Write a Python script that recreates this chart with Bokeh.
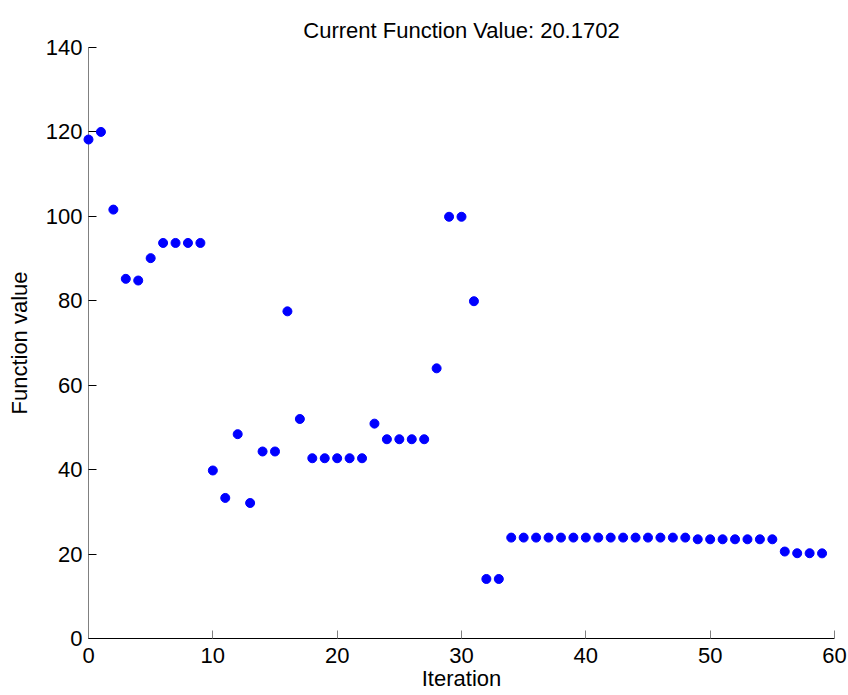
from bokeh.plotting import figure
from bokeh.models import ColumnDataSource, Range1d, FixedTicker
from bokeh.embed import file_html
from bokeh.resources import INLINE

iterations = list(range(60))
values = [
    118.2, 120.0, 101.6, 85.2, 84.8, 90.1, 93.7, 93.7, 93.7, 93.7,
    39.8, 33.3, 48.4, 32.1, 44.3, 44.3, 77.5, 52.0, 42.7, 42.7,
    42.7, 42.7, 42.7, 50.9, 47.2, 47.2, 47.2, 47.2, 64.0, 99.9,
    99.9, 79.9, 14.1, 14.1, 23.9, 23.9, 23.9, 23.9, 23.9, 23.9,
    23.9, 23.9, 23.9, 23.9, 23.9, 23.9, 23.9, 23.9, 23.9, 23.5,
    23.5, 23.5, 23.5, 23.5, 23.5, 23.5, 20.6, 20.2, 20.2, 20.1702,
]
x_ticks = [0, 10, 20, 30, 40, 50, 60]
y_ticks = [0, 20, 40, 60, 80, 100, 120, 140]
title_text = "Current Function Value: 20.1702"
x_label = "Iteration"
y_label = "Function value"

FONT = "Liberation Sans"

src = ColumnDataSource(data=dict(x=iterations, y=values))

p = figure(
    width=848, height=695,
    output_backend="svg", toolbar_location=None,
    x_range=Range1d(0, 60), y_range=Range1d(0, 140),
    min_border_left=88, min_border_right=14,
    min_border_top=47, min_border_bottom=57,
    title=title_text,
)
p.outline_line_color = None
p.background_fill_color = "white"
p.border_fill_color = "white"
p.xgrid.visible = False
p.ygrid.visible = False

p.title.text_font = FONT
p.title.text_font_size = "22px"
p.title.text_font_style = "normal"
p.title.text_color = "black"
p.title.align = "center"
p.title.offset = 0
p.title.standoff = 10

for ax in (p.xaxis[0], p.yaxis[0]):
    ax.major_label_text_font = FONT
    ax.major_label_text_font_size = "22px"
    ax.major_label_text_color = "black"
    ax.axis_label_text_font = FONT
    ax.axis_label_text_font_size = "22px"
    ax.axis_label_text_font_style = "normal"
    ax.axis_label_text_color = "black"
    ax.major_tick_in = 8
    ax.major_tick_out = 0
    ax.minor_tick_line_color = None

p.xaxis.ticker = FixedTicker(ticks=x_ticks)
p.yaxis.ticker = FixedTicker(ticks=y_ticks)
p.xaxis.axis_label = x_label
p.yaxis.axis_label = y_label

p.xaxis.axis_line_color = "black"
p.xaxis.major_tick_line_color = "#808080"
p.xaxis.major_label_standoff = 9
p.xaxis.axis_label_standoff = 0
p.yaxis.axis_line_color = "#808080"
p.yaxis.major_tick_line_color = "black"
p.yaxis.major_label_standoff = 6
p.yaxis.axis_label_standoff = 11

r = p.scatter("x", "y", source=src, size=9, marker="circle",
              fill_color="#0000FF", line_color="#0000FF")
r.level = "overlay"

open("out.html", "w").write(file_html(p, INLINE))
